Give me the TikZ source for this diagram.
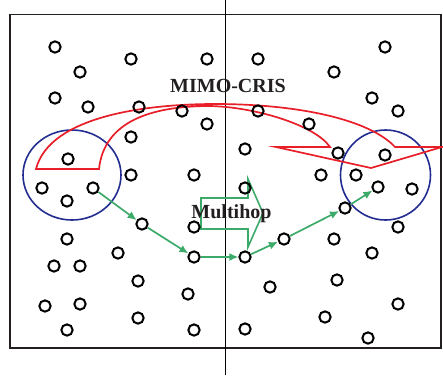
\documentclass[tikz,border=0pt]{standalone}
\usepackage{fontspec}
\setmainfont{Liberation Serif}
\usetikzlibrary{arrows.meta}
\definecolor{inkgray}{RGB}{35,31,32}
\definecolor{crisred}{RGB}{232,30,40}
\definecolor{clusterblue}{RGB}{35,45,145}
\definecolor{hopgreen}{RGB}{60,170,105}
\tikzset{
  dot/.style={circle,draw=black,line width=2pt,minimum size=11.3pt,inner sep=0pt},
  frameline/.style={draw=inkgray,line width=1.9pt},
  cluster/.style={draw=clusterblue,line width=1.6pt},
  crisarrow/.style={draw=crisred,line width=1.7pt,line join=miter},
  hop/.style={draw=hopgreen,line width=1.7pt,-{Latex[length=9pt,width=8pt]}},
  hopblock/.style={draw=hopgreen,line width=1.6pt,line join=miter},
  label/.style={text=inkgray,font=\bfseries\fontsize{20}{24}\selectfont,inner sep=0pt}
}
\begin{document}
\begin{tikzpicture}[x=1pt,y=-1pt]
\useasboundingbox (0,0) rectangle (443,375);
% field boundary and dividing line
\draw[frameline] (10,14.5) rectangle (441,348);
\draw[draw=black,line width=1.8pt] (225.5,0) -- (225.5,375);
% cluster rings
\draw[cluster] (72,175) ellipse [x radius=49, y radius=45];
\draw[cluster] (385.5,175) ellipse [x radius=45, y radius=45];
% curved MIMO-CRIS arrow outline
\draw[crisarrow] (36,169) .. controls (50,115) and (150,104) .. (215,104)
  .. controls (300,104) and (370,120) .. (395,147) -- (442,147) -- (371,168)
  -- (276,147) -- (330,147) .. controls (315,125) and (255,107) .. (210,106)
  .. controls (150,106) and (104,122) .. (99,169) -- cycle;
% Multihop block arrow
\draw[hopblock] (201,198) -- (248,198) -- (248,179) -- (263,213) -- (248,247)
  -- (248,229) -- (201,229) -- cycle;
% sensor nodes
\foreach \x/\y [count=\i] in {
  55/47,131/59,207/59,80/72,55/98,88/107,139/107,182/111,207/124,131/137,
  68/159,131/175,194/175,42/188,93/188,67/201,142/224,194/227,67/239,118/253,
  194/257,54/266,80/266,138/281,188/294,45/306,80/304,138/318,67/330,194/330,
  258/59,385/47,334/72,372/98,398/111,258/111,309/124,245/149,338/153,385/155,
  321/175,356/175,378/187,412/189,245/188,345/208,398/227,284/239,334/239,372/253,
  245/257,270/287,337/280,398/304,325/317,245/329,368/338}
  \node[dot] (n\i) at (\x,\y) {};
% multihop route
\draw[hop] (n15) -- (n17);
\draw[hop] (n17) -- (n21);
\draw[hop] (n21) -- (n51);
\draw[hop] (n51) -- (n48);
\draw[hop] (n48) -- (n46);
\draw[hop] (n46) -- (n43);
% labels
\node[label,anchor=base] (crislabel) at (228,92) {MIMO-CRIS};
\node[label,anchor=base] (hoplabel) at (231.5,218) {Multihop};
\end{tikzpicture}
\end{document}
